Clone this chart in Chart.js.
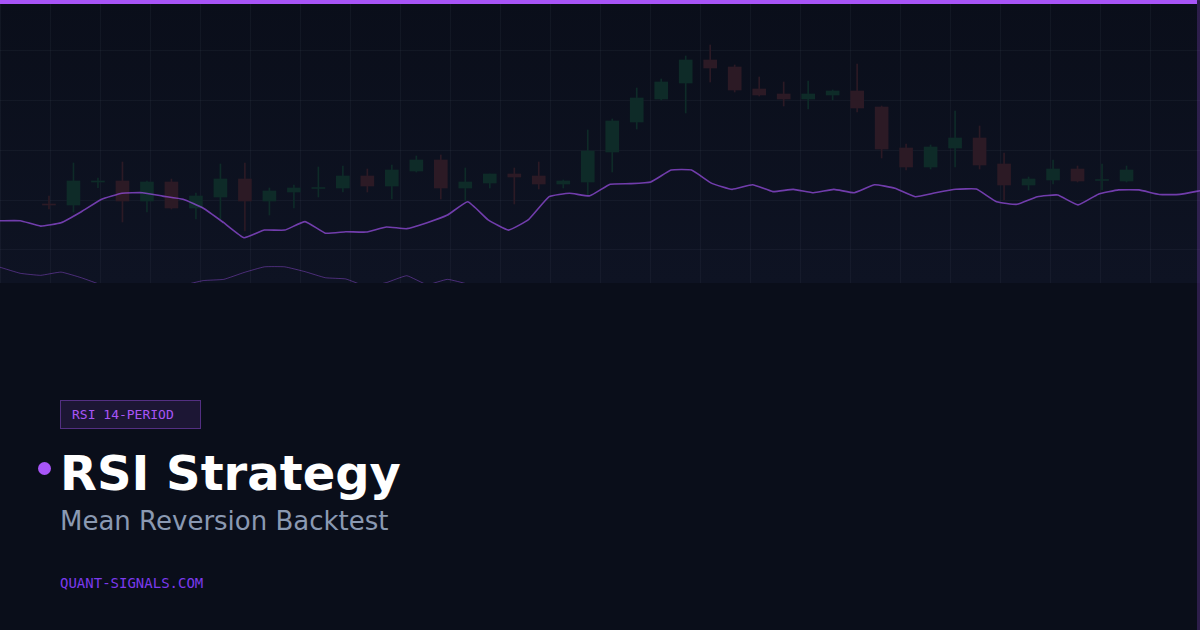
<!DOCTYPE html>
<html>
<head>
<meta charset="utf-8">
<title>RSI Strategy</title>
<script src="https://cdn.jsdelivr.net/npm/chart.js@4.4.1/dist/chart.umd.min.js"></script>
<style>
  html, body { margin: 0; padding: 0; }
  body {
    width: 1200px; height: 630px; overflow: hidden; position: relative;
    background: #0a0e1a;
    font-family: "DejaVu Sans", sans-serif;
  }
  .chart-wrap {
    position: absolute; left: 0; top: 0; width: 1200px; height: 283px;
    background: linear-gradient(180deg, #0a0e1a 0%, #0e1323 100%);
  }
  .top-bar { position: absolute; left: 0; top: 0; width: 1197px; height: 4px; background: #a855f7; }
  .right-bar { position: absolute; right: 0; top: 0; width: 3px; height: 630px; background: rgba(168,85,247,0.22); }
  .badge {
    position: absolute; left: 60px; top: 400px; width: 141px; height: 29px;
    box-sizing: border-box; padding-left: 11px;
    display: flex; align-items: center;
    background: rgba(168,85,247,0.12); border: 1px solid rgba(168,85,247,0.4);
    font-family: "DejaVu Sans Mono", monospace; font-size: 13px; color: #a855f7;
  }
  .dot { position: absolute; left: 38px; top: 462px; width: 13px; height: 13px; border-radius: 50%; background: #a855f7; }
  .title {
    position: absolute; left: 60px; top: 449px; line-height: 48px;
    font-size: 48px; font-weight: bold; color: #ffffff; white-space: nowrap;
  }
  .subtitle {
    position: absolute; left: 60px; top: 508px; line-height: 26px;
    font-size: 26px; color: #8a99b2; white-space: nowrap;
  }
  .footer {
    position: absolute; left: 60px; top: 576px; line-height: 14px;
    font-family: "DejaVu Sans Mono", monospace; font-size: 14px; color: #7c3aed;
  }
</style>
</head>
<body>
  <div class="chart-wrap"><canvas id="chart-rsi"></canvas></div>
  <div class="top-bar"></div>
  <div class="right-bar"></div>

  <div class="badge">RSI 14-PERIOD</div>
  <div class="dot"></div>
  <div class="title">RSI Strategy</div>
  <div class="subtitle">Mean Reversion Backtest</div>
  <div class="footer">QUANT-SIGNALS.COM</div>

<script>
// === 캔들 (OHLC, 45개) ===
const candleOpen  = [107.90,107.80,110.10,110.20,108.20,110.10,107.50,108.60,110.40,108.20,109.10,109.45,109.50,110.70,109.70,
                     111.20,112.30,109.50,110.00,110.90,110.70,109.90,110.10,113.10,116.10,118.40,120.00,122.30,121.60,119.40,
                     118.90,118.40,118.80,119.20,117.60,113.50,111.60,113.50,114.50,111.90,109.80,110.30,111.40,110.25,110.20];
const candleClose = [107.80,110.20,110.20,108.20,110.10,107.50,108.70,110.40,108.20,109.20,109.50,109.55,110.70,109.70,111.30,
                     112.30,109.50,110.10,110.90,110.60,109.90,110.20,113.20,116.20,118.50,120.10,122.30,121.50,119.30,118.80,
                     118.40,118.90,119.20,117.50,113.40,111.60,113.60,114.50,111.80,109.80,110.40,111.40,110.20,110.35,111.30];
const candleHigh  = [108.70,112.00,110.50,112.10,110.20,110.40,109.00,111.90,112.00,109.50,109.80,111.60,111.70,111.40,111.80,
                     112.70,112.80,111.50,110.90,111.50,112.10,110.30,115.30,116.40,119.50,120.40,122.70,123.80,121.80,120.60,
                     120.10,120.20,119.30,121.90,117.70,113.90,113.80,117.20,115.70,113.00,110.60,112.30,111.70,111.90,111.70];
const candleLow   = [107.40,107.10,109.53,106.10,107.10,107.40,106.40,106.40,105.20,106.80,107.50,108.60,109.10,109.10,108.40,
                     111.10,108.40,108.20,109.50,107.90,109.40,109.50,108.80,111.10,115.40,118.30,117.00,120.10,119.10,118.70,
                     117.70,117.40,118.30,117.10,112.50,111.30,111.40,111.60,111.40,108.30,109.30,109.90,110.10,109.30,110.10];

// === 시그널 라인 (60개) ===
const signalLine = [22.0,22.0,20.1,21.3,25.2,29.6,31.7,31.9,30.7,29.6,26.4,21.3,16.0,18.7,18.7,21.7,17.6,18.1,18.0,19.8,
                    19.2,21.3,24.0,28.7,22.3,18.7,22.5,30.5,31.7,30.8,34.9,35.1,35.7,39.9,39.9,35.2,33.1,34.7,32.3,33.1,
                    31.9,33.1,31.9,34.7,33.5,30.5,31.9,33.1,33.2,28.7,27.8,30.5,31.1,27.6,31.4,32.9,32.9,31.3,31.3,32.6];

// === RSI 하단 라인 (30 아래는 잘려서 안 보임) ===
const rsiLine = [33.9,32.4,31.9,32.7,31.3,29.5,28.0,27.0,27.5,29.4,30.6,30.9,32.6,34.0,34.0,32.8,31.3,31.0,29.2,30.1,
                 31.8,29.6,30.9,29.7,27.5,25.0,23.5,22.0,21.0,20.5,19.0,18.5,18.0,17.5,18.0,19.0,20.0,21.0,21.5,22.0,
                 22.5,23.0,22.0,21.5,21.0,22.0,23.0,24.0,24.5,23.0,22.0,23.5,24.0,23.0,24.5,25.0,25.5,25.0,24.5,25.0];

const UP = '#0e2b28';
const DOWN = '#2c1a25';
const GRID = 'rgba(148,163,184,0.06)';

const candleColors = candleOpen.map((o, i) => candleClose[i] >= o ? UP : DOWN);

new Chart(document.getElementById('chart-rsi'), {
  type: 'bar',
  data: {
    datasets: [
      {
        label: 'signal',
        type: 'line',
        data: signalLine.map((v, i) => ({ x: i, y: v })),
        xAxisID: 'xLine', yAxisID: 'ySignal',
        borderColor: 'rgba(168,85,247,0.65)',
        borderWidth: 1.6, pointRadius: 0, tension: 0.12, fill: false,
        order: 1,
      },
      {
        label: 'rsi',
        type: 'line',
        data: rsiLine.map((v, i) => ({ x: i, y: v })),
        xAxisID: 'xLine', yAxisID: 'yRsi',
        borderColor: 'rgba(168,85,247,0.4)',
        borderWidth: 1, pointRadius: 0, tension: 0.12, fill: false,
        order: 2,
      },
      {
        label: 'body',
        data: candleOpen.map((o, i) => ({ x: i, y: [o, candleClose[i]] })),
        xAxisID: 'xIdx', yAxisID: 'yPrice',
        backgroundColor: candleColors,
        barThickness: 13, minBarLength: 1, grouped: false, borderWidth: 0,
        order: 3,
      },
      {
        label: 'wick',
        data: candleLow.map((l, i) => ({ x: i, y: [l, candleHigh[i]] })),
        xAxisID: 'xIdx', yAxisID: 'yPrice',
        backgroundColor: candleColors,
        barThickness: 1, grouped: false, borderWidth: 0,
        order: 4,
      },
    ],
  },
  options: {
    responsive: true,
    maintainAspectRatio: false,
    animation: false,
    events: [],
    layout: { padding: 0 },
    plugins: { legend: { display: false }, tooltip: { enabled: false } },
    scales: {
      // 배경 격자 (50px 간격) - bar 기본값의 offset 꺼야 정확히 맞음
      xGrid: {
        type: 'linear', position: 'bottom', min: 0, max: 1200, offset: false,
        ticks: { display: false, stepSize: 50 },
        grid: { color: GRID, drawTicks: false, lineWidth: 1, offset: false },
        border: { display: false },
      },
      yGrid: {
        type: 'linear', position: 'left', min: 0, max: 283, reverse: true,
        ticks: { display: false, stepSize: 50, includeBounds: false },
        grid: { color: GRID, drawTicks: false, lineWidth: 1 },
        border: { display: false },
      },
      xIdx: { type: 'linear', display: false, min: -2, max: 47, offset: false, grid: { offset: false } },
      xLine: { type: 'linear', display: false, min: 0, max: 59, offset: false, grid: { offset: false } },
      yPrice: { type: 'linear', display: false, min: 100, max: 128.3 },
      ySignal: { type: 'linear', display: false, min: 0, max: 100 },
      yRsi: { type: 'linear', display: false, min: 30, max: 100 },
    },
  },
});
</script>
</body>
</html>
